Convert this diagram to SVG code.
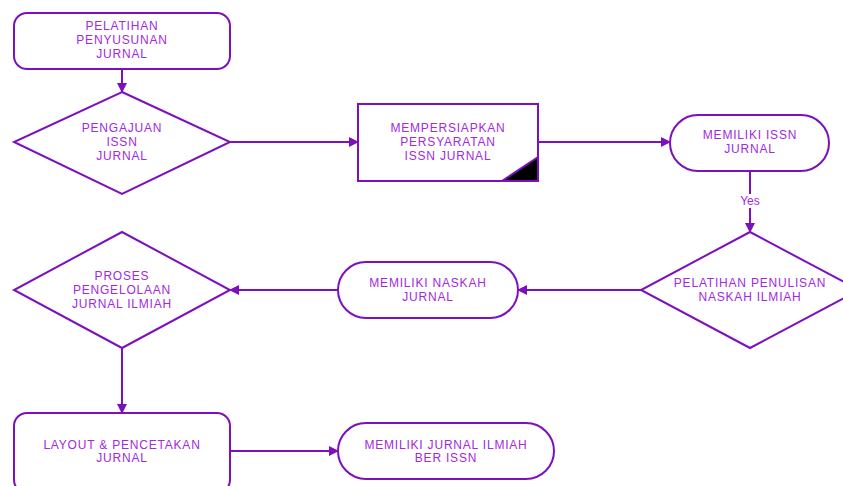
<svg xmlns="http://www.w3.org/2000/svg" width="843" height="486" viewBox="0 0 843 486">
<defs>
<marker id="ah" markerWidth="10" markerHeight="10" refX="9" refY="5" orient="auto" markerUnits="userSpaceOnUse">
<path d="M0,0 L10,5 L0,10 Z" fill="#7d10bd"/>
</marker>
<style>
.s{fill:#fff;stroke:#7d10bd;stroke-width:2}
.t{font-family:"Liberation Sans",Arial,sans-serif;font-size:12px;fill:#a12ae0;text-anchor:middle;dominant-baseline:central;letter-spacing:0.8px}
.c{fill:none;stroke:#7d10bd;stroke-width:2;marker-end:url(#ah)}
</style>
</defs>
<rect width="843" height="486" fill="#fff"/>
<g id="connectors">
<line class="c" x1="122" y1="69" x2="122" y2="92"/>
<line class="c" x1="230" y1="142" x2="358" y2="142"/>
<line class="c" x1="538" y1="142" x2="670" y2="142"/>
<line class="c" x1="750" y1="171" x2="750" y2="232"/>
<rect x="736" y="194" width="28" height="14" fill="#fff"/>
<text class="t" x="750" y="201" style="letter-spacing:0">Yes</text>
<line class="c" x1="641" y1="290" x2="518" y2="290"/>
<line class="c" x1="338" y1="290" x2="230" y2="290"/>
<line class="c" x1="122" y1="348" x2="122" y2="413"/>
<line class="c" x1="230" y1="451" x2="338" y2="451"/>
</g>
<g id="n1">
<rect class="s" x="14" y="13" width="216" height="56" rx="13"/>
<text class="t" x="122" y="26">PELATIHAN</text>
<text class="t" x="122" y="40">PENYUSUNAN</text>
<text class="t" x="122" y="54">JURNAL</text>
</g>
<g id="n2">
<polygon class="s" points="122,92 230,142 122,194 14,142"/>
<text class="t" x="122" y="128">PENGAJUAN</text>
<text class="t" x="122" y="142">ISSN</text>
<text class="t" x="122" y="156">JURNAL</text>
</g>
<g id="n3">
<rect class="s" x="358" y="104" width="180" height="77"/>
<polygon points="502,181 538,181 538,157" fill="#000" stroke="#7d10bd" stroke-width="2"/>
<text class="t" x="448" y="128">MEMPERSIAPKAN</text>
<text class="t" x="448" y="142">PERSYARATAN</text>
<text class="t" x="448" y="156">ISSN JURNAL</text>
</g>
<g id="n4">
<rect class="s" x="670" y="115" width="159" height="56" rx="28"/>
<text class="t" x="750" y="135">MEMILIKI ISSN</text>
<text class="t" x="750" y="149">JURNAL</text>
</g>
<g id="n5">
<polygon class="s" points="750,232 859,290 750,348 641,290"/>
<text class="t" x="750" y="283">PELATIHAN PENULISAN</text>
<text class="t" x="750" y="297">NASKAH ILMIAH</text>
</g>
<g id="n6">
<rect class="s" x="338" y="262" width="180" height="56" rx="28"/>
<text class="t" x="428" y="283">MEMILIKI NASKAH</text>
<text class="t" x="428" y="297">JURNAL</text>
</g>
<g id="n7">
<polygon class="s" points="122,232 230,290 122,348 14,290"/>
<text class="t" x="122" y="276">PROSES</text>
<text class="t" x="122" y="290">PENGELOLAAN</text>
<text class="t" x="122" y="304">JURNAL ILMIAH</text>
</g>
<g id="n8">
<rect class="s" x="14" y="413" width="216" height="80" rx="13"/>
<text class="t" x="122" y="445">LAYOUT &amp; PENCETAKAN</text>
<text class="t" x="122" y="458">JURNAL</text>
</g>
<g id="n9">
<rect class="s" x="338" y="423" width="216" height="56" rx="28"/>
<text class="t" x="446" y="445">MEMILIKI JURNAL ILMIAH</text>
<text class="t" x="446" y="458">BER ISSN</text>
</g>
</svg>
